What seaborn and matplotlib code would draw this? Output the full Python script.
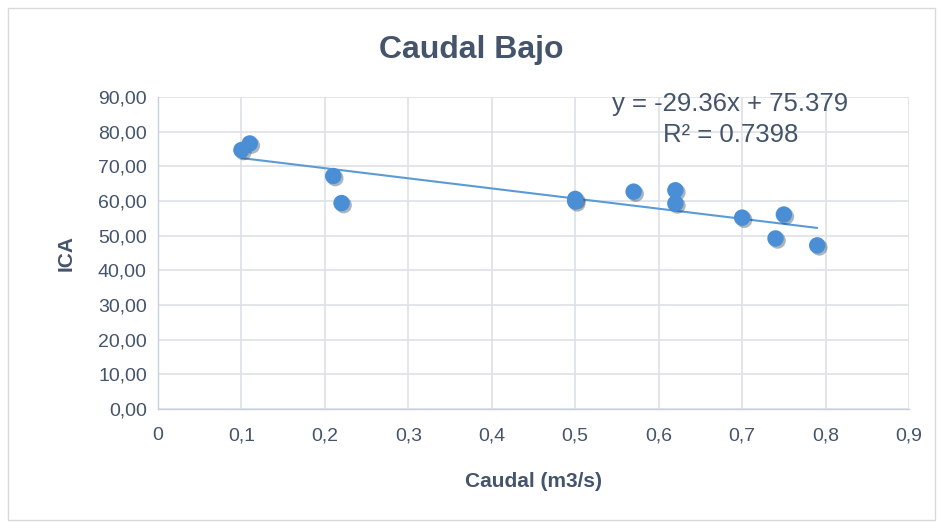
import numpy as np
import pandas as pd
import matplotlib
matplotlib.use("Agg")
import matplotlib.pyplot as plt
import matplotlib.patheffects as pe
from matplotlib.patches import Rectangle
from matplotlib.ticker import FuncFormatter
import seaborn as sns

caudal = [0.10, 0.11, 0.21, 0.22, 0.50, 0.50, 0.57, 0.62, 0.62, 0.70, 0.74, 0.75, 0.79]
ica = [74.7, 76.6, 67.2, 59.4, 60.6, 59.9, 62.7, 63.1, 59.3, 55.2, 49.2, 56.1, 47.2]
equation = "y = -29.36x + 75.379\nR² = 0.7398"

df = pd.DataFrame({"Caudal": caudal, "ICA": ica})

text_color = "#44546A"
blue = "#4A8ED6"
grid_color = "#DDE1E8"

sns.set_theme(style="white")
plt.rcParams["font.family"] = ["Liberation Sans", "DejaVu Sans"]

fig = plt.figure(figsize=(9.42, 5.23), dpi=100)
ax = fig.add_axes([0.1677, 0.218, 0.7973, 0.5965])

fig.patches.append(Rectangle((8 / 942, 3 / 523), 927 / 942, 512 / 523,
                             transform=fig.transFigure, fill=False,
                             edgecolor="#D9D9D9", linewidth=1))

sns.regplot(data=df, x="Caudal", y="ICA", ax=ax, ci=None,
            scatter_kws={"s": 140, "color": blue, "alpha": 1, "linewidths": 0, "zorder": 3},
            line_kws={"color": "#5B9BD5", "linewidth": 1.5, "zorder": 2})
ax.collections[0].set_path_effects([pe.SimplePatchShadow(offset=(1.5, -1.5), alpha=0.35),
                                    pe.Normal()])

ax.set_xlim(0, 0.9)
ax.set_ylim(0, 90)
ax.set_xticks(np.arange(0, 0.91, 0.1))
ax.set_yticks(np.arange(0, 91, 10))
ax.xaxis.set_major_formatter(FuncFormatter(
    lambda v, p: "0" if abs(v) < 1e-9 else f"{v:.1f}".replace(".", ",")))
ax.yaxis.set_major_formatter(FuncFormatter(lambda v, p: f"{v:.2f}".replace(".", ",")))
ax.tick_params(axis="both", labelsize=14, colors=text_color, length=0)
ax.tick_params(axis="x", pad=13)
ax.tick_params(axis="y", pad=8)

ax.grid(True, color=grid_color, linewidth=1.2)
ax.set_axisbelow(True)
for s in ["top", "right"]:
    ax.spines[s].set_visible(False)
for s in ["left", "bottom"]:
    ax.spines[s].set_color("#C9D0DC")
    ax.spines[s].set_linewidth(1)

ax.set_xlabel("Caudal (m3/s)", fontsize=15, fontweight="bold", color=text_color, labelpad=20)
ax.set_ylabel("ICA", fontsize=15, fontweight="bold", color=text_color, labelpad=16)

fig.text(0.5, 0.905, "Caudal Bajo", ha="center", va="center", fontsize=23,
         fontweight="bold", color=text_color)

ax.text(0.686, 91.5, equation, ha="center", va="top", fontsize=18.5,
        color=text_color, linespacing=1.4)

fig.savefig("out.png", dpi=100)
